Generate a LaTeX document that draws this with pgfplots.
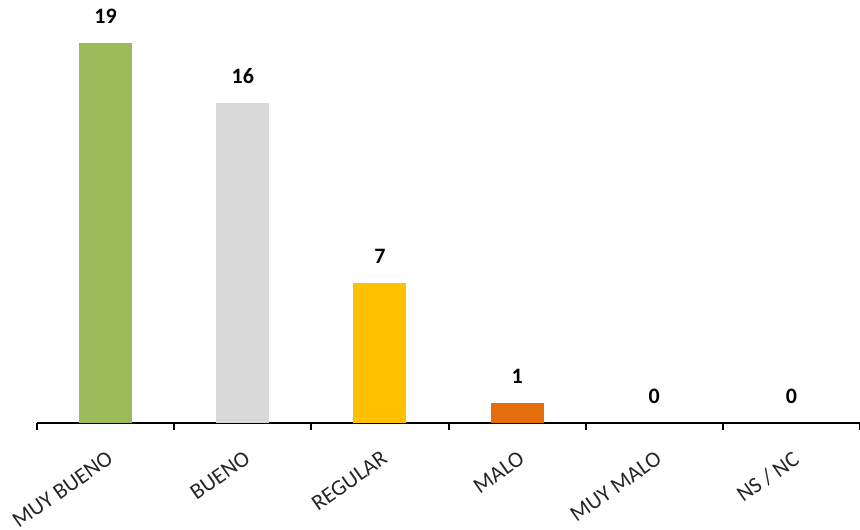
\documentclass[border=0pt]{standalone}
\usepackage{pgfplots}
\pgfplotsset{compat=1.18}
\usepackage{fontspec}
\setmainfont{Carlito}
\definecolor{cgreen}{HTML}{9BBB59}
\definecolor{cgray}{HTML}{D9D9D9}
\definecolor{cyellow}{HTML}{FFC000}
\definecolor{corange}{HTML}{E46C0A}
\begin{document}
\begin{tikzpicture}
\begin{axis}[
  name=ax,
  scale only axis,
  width=411.5pt, height=211.5pt,
  xmin=-0.5, xmax=5.5,
  ymin=0, ymax=21.15,
  axis y line=none,
  axis x line*=bottom,
  axis line style={black, line width=1pt},
  xtick={0,1,2,3,4,5},
  xticklabels={MUY BUENO,BUENO,REGULAR,MALO,MUY MALO,NS / NC},
  major x tick style={draw=none},
  minor xtick={-0.5,0.5,1.5,2.5,3.5,4.5,5.5},
  minor tick length=3.5pt,
  minor x tick style={black, line width=1pt},
  xtick align=outside,
  xticklabel style={rotate=35, anchor=north east, font=\fontsize{11.2}{13}\selectfont, text=black!85, inner sep=0pt, xshift=-5pt, yshift=-7.5pt},
  ybar, bar width=26.5pt, bar shift=0pt,
  nodes near coords,
  every node near coord/.append style={font=\fontsize{11}{13}\selectfont\bfseries, black, yshift=6pt, /pgf/number format/assume math mode=true},
  clip=false,
]
\addplot[fill=cgreen, draw=none] coordinates {(0,19)};
\addplot[fill=cgray, draw=none] coordinates {(1,16)};
\addplot[fill=cyellow, draw=none] coordinates {(2,7)};
\addplot[fill=corange, draw=none] coordinates {(3,1)};
\addplot[fill=none, draw=none] coordinates {(4,0)};
\addplot[fill=none, draw=none] coordinates {(5,0)};
\end{axis}
\pgfresetboundingbox
\path ([xshift=-18.5pt,yshift=-53pt]ax.south west) rectangle (ax.north east);
\end{tikzpicture}
\end{document}
